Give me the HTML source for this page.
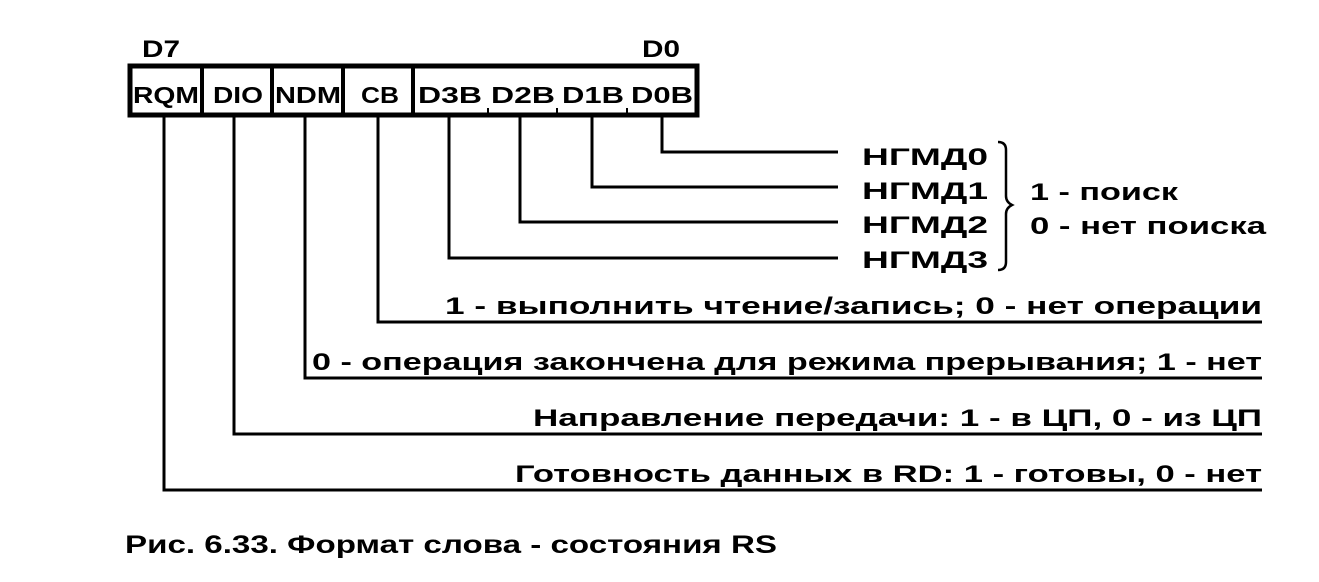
<!DOCTYPE html>
<html><head><meta charset="utf-8"><style>
html,body{margin:0;padding:0;background:#fff;}
svg{display:block;}
text{font-family:"Liberation Sans","DejaVu Sans",sans-serif;font-weight:bold;fill:#000;}
</style></head><body>
<svg width="1319" height="582" viewBox="0 0 1319 582" xmlns="http://www.w3.org/2000/svg">
<g stroke="#000" fill="none">
<rect x="130" y="66" width="567" height="49" stroke-width="5"/>
<g stroke-width="4">
<line x1="202" y1="66" x2="202" y2="115"/>
<line x1="272" y1="66" x2="272" y2="115"/>
<line x1="343" y1="66" x2="343" y2="115"/>
<line x1="413" y1="66" x2="413" y2="115"/>
</g>
<g stroke-width="2">
<line x1="488" y1="108" x2="488" y2="115"/>
<line x1="557" y1="108" x2="557" y2="115"/>
<line x1="627" y1="108" x2="627" y2="115"/>
</g>
<g stroke-width="3">
<polyline points="662,115 662,152 838,152"/>
<polyline points="592,115 592,187 838,187"/>
<polyline points="520,115 520,222 838,222"/>
<polyline points="449,115 449,258 838,258"/>
<polyline points="378,115 378,322 1262,322"/>
<polyline points="305,115 305,378 1262,378"/>
<polyline points="234,115 234,434 1262,434"/>
<polyline points="164,115 164,490 1262,490"/>
</g>
<path d="M998,142 Q1006,142 1006,150 L1006,196 Q1006,202 1012,205 Q1006,208 1006,214 L1006,262 Q1006,270 998,270" stroke-width="2.5"/>
</g>
<text x="142" y="57" font-size="24" textLength="38" lengthAdjust="spacingAndGlyphs">D7</text>
<text x="642" y="57" font-size="24" textLength="38" lengthAdjust="spacingAndGlyphs">D0</text>
<g font-size="23">
<text x="133" y="103" textLength="66" lengthAdjust="spacingAndGlyphs">RQM</text>
<text x="213" y="103" textLength="50" lengthAdjust="spacingAndGlyphs">DIO</text>
<text x="275" y="103" textLength="66" lengthAdjust="spacingAndGlyphs">NDM</text>
<text x="361" y="103" textLength="38" lengthAdjust="spacingAndGlyphs">CB</text>
<text x="418" y="103" textLength="64" lengthAdjust="spacingAndGlyphs">D3B</text>
<text x="491" y="103" textLength="64" lengthAdjust="spacingAndGlyphs">D2B</text>
<text x="562" y="103" textLength="62" lengthAdjust="spacingAndGlyphs">D1B</text>
<text x="631" y="103" textLength="62" lengthAdjust="spacingAndGlyphs">D0B</text>
</g>
<g font-size="24">
<text x="862" y="165" textLength="126" lengthAdjust="spacingAndGlyphs">НГМД0</text>
<text x="862" y="199" textLength="126" lengthAdjust="spacingAndGlyphs">НГМД1</text>
<text x="862" y="233" textLength="126" lengthAdjust="spacingAndGlyphs">НГМД2</text>
<text x="862" y="268" textLength="126" lengthAdjust="spacingAndGlyphs">НГМД3</text>
<text x="1030" y="200" textLength="148" lengthAdjust="spacingAndGlyphs">1 - поиск</text>
<text x="1030" y="234" textLength="236" lengthAdjust="spacingAndGlyphs">0 - нет поиска</text>
<text x="445" y="314" textLength="817" lengthAdjust="spacingAndGlyphs">1 - выполнить чтение/запись; 0 - нет операции</text>
<text x="312" y="370" textLength="950" lengthAdjust="spacingAndGlyphs">0 - операция закончена для режима прерывания; 1 - нет</text>
<text x="533" y="426" textLength="729" lengthAdjust="spacingAndGlyphs">Направление передачи: 1 - в ЦП, 0 - из ЦП</text>
<text x="515" y="482" textLength="747" lengthAdjust="spacingAndGlyphs">Готовность данных в RD: 1 - готовы, 0 - нет</text>
</g>
<text x="125" y="553" font-size="25" textLength="652" lengthAdjust="spacingAndGlyphs">Рис. 6.33. Формат слова - состояния RS</text>
</svg>
</body></html>
